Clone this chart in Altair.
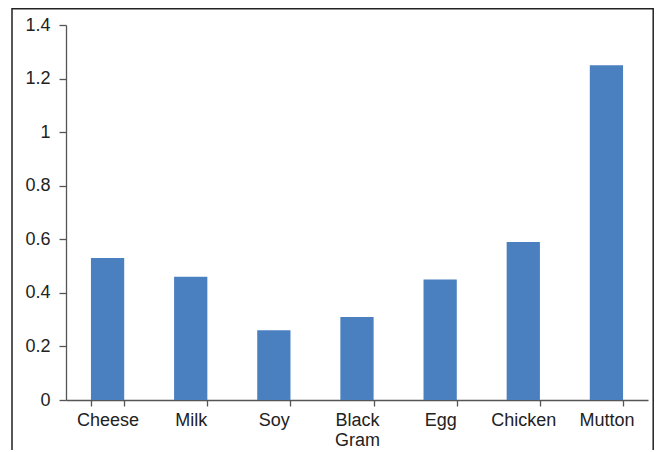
import altair as alt
import pandas as pd

categories = ["Cheese", "Milk", "Soy", "Black Gram", "Egg", "Chicken", "Mutton"]
values = [0.53, 0.46, 0.26, 0.31, 0.45, 0.59, 1.25]
y_ticks = [0, 0.2, 0.4, 0.6, 0.8, 1.0, 1.2, 1.4]

df = pd.DataFrame({"food": categories, "value": values})
font = "Liberation Sans"

bars = alt.Chart(df).mark_bar(color="#4A7FC0").encode(
    x=alt.X(
        "food:N",
        sort=categories,
        title=None,
        scale=alt.Scale(paddingInner=0.6, paddingOuter=0.3),
        axis=alt.Axis(
            labelAngle=0,
            labelExpr="split(datum.label, ' ')",
            labelLineHeight=20,
            labelFontSize=18,
            labelFont=font,
            labelColor="#222222",
            labelPadding=5,
            tickBand="extent",
            tickSize=6,
            tickColor="#555555",
            tickWidth=1.3,
            domainColor="#555555",
            domainWidth=1.3,
            labelBaseline="top",
        ),
    ),
    y=alt.Y(
        "value:Q",
        title=None,
        scale=alt.Scale(domain=[0, 1.4], nice=False),
        axis=alt.Axis(
            values=y_ticks,
            format=".2~f",
            grid=False,
            labelFontSize=18,
            labelFont=font,
            labelColor="#222222",
            labelPadding=9,
            tickSize=7,
            tickColor="#555555",
            tickWidth=1.3,
            domainColor="#555555",
            domainWidth=1.3,
        ),
    ),
)

frame = alt.Chart(pd.DataFrame({"a": [0]})).mark_rect(
    fill="transparent", stroke="#222222", strokeWidth=1.5
).encode(
    x=alt.value(-54),
    x2=alt.value(587.2),
    y=alt.value(-16.25),
    y2=alt.value(440),
)

chart = alt.layer(frame, bars).properties(
    width=582,
    height=375,
    autosize=alt.AutoSizeParams(type="none"),
    padding={"left": 58, "top": 17, "right": 6, "bottom": 50},
).configure_view(stroke=None)

chart.save("out.html", embed_options={"renderer": "svg", "actions": False})
